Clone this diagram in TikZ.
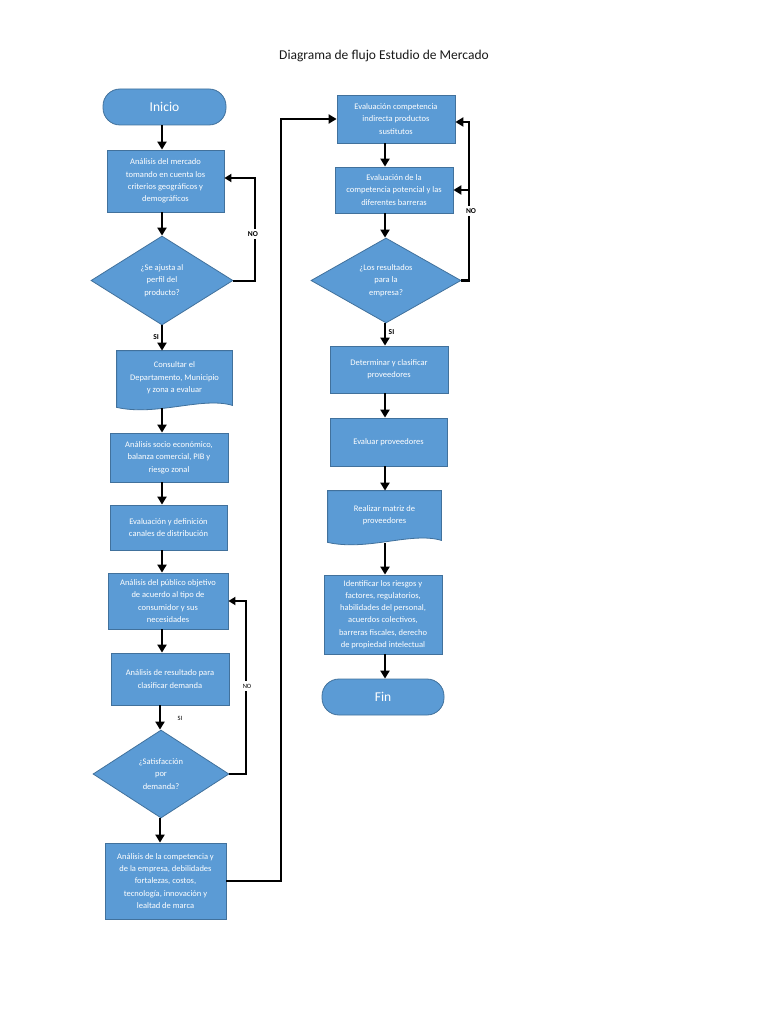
\documentclass[tikz,border=0pt]{standalone}
\usepackage{fontspec}
\setmainfont{Carlito}
\usetikzlibrary{shapes.geometric,arrows.meta,calc,backgrounds}
\definecolor{boxblue}{HTML}{5B9BD5}
\definecolor{boxline}{HTML}{41719C}
% document shape (wavy bottom) drawn behind a named node
\newcommand{\docfill}[1]{%
  \begin{scope}[on background layer]
    \filldraw[fill=boxblue,draw=boxline,line width=.8pt]
      (#1.north west) -- (#1.north east) -- (#1.south east)
      .. controls ($(#1.south east)+(-30,-9)$) and ($(#1.south west)+(40,11)$) .. ($(#1.south west)+(0,2)$) -- cycle;
  \end{scope}}

\begin{document}
\begin{tikzpicture}[x=1pt,y=-1pt,
	base/.style={fill=boxblue,draw=boxline,line width=.8pt,text=white,align=center,inner sep=0pt,font=\fontsize{8.5}{12.3}\selectfont},
	term/.style={base,rounded corners=17pt,minimum width=123pt,minimum height=36pt,font=\fontsize{13.5}{15}\selectfont},
	proc/.style={base,rectangle},
	dec/.style={base,diamond,shape aspect=1.6},
	doc/.style={base,draw=none,fill=none},
	flow/.style={line width=2.9pt,-{Triangle[length=8pt,width=9pt]}},
	back/.style={line width=2pt,-{Triangle[length=7pt,width=8pt]}},
	tag/.style={font=\fontsize{7.5}{9}\bfseries\selectfont,fill=white,inner sep=1.5pt},
	thintag/.style={tag,font=\fontsize{6.5}{8}\selectfont}]
	\useasboundingbox (0,0) rectangle (768,1024);
	\node[font=\fontsize{13.5}{15}\selectfont,text=black!90] (title) at (384,56) {Diagrama de flujo Estudio de Mercado};

	% left column
	\path (162,0) coordinate (colL) (255,0) coordinate (loopA) (246,0) coordinate (loopB) (281,0) coordinate (bridge);
	\node[term] (inicio) at (164.5,107) {Inicio};
	\node[proc,minimum width=117pt,minimum height=62pt] (mercado) at (165.5,181) {Análisis del mercado\\tomando en cuenta los\\criterios geográficos y\\demográficos};
	\node[dec,minimum width=142pt,minimum height=89pt] (ajusta) at (162,280.5) {¿Se ajusta al\\perfil del\\producto?};
	\node[doc,minimum width=115pt,minimum height=54pt] (consulta) at (174.5,378) {Consultar el\\Departamento, Municipio\\y zona a evaluar};
	\docfill{consulta}
	\node[proc,minimum width=118pt,minimum height=49pt] (socio) at (169,457.5) {Análisis socio económico,\\balanza comercial, PIB y\\riesgo zonal};
	\node[proc,minimum width=117pt,minimum height=45pt] (canales) at (168.5,527.5) {Evaluación y definición\\canales de distribución};
	\node[proc,minimum width=120pt,minimum height=56pt] (publico) at (168,601) {Análisis del público objetivo\\de acuerdo al tipo de\\consumidor y sus\\necesidades};
	\node[proc,minimum width=118pt,minimum height=52pt] (demanda) at (170,679) {Análisis de resultado para\\clasificar demanda};
	\node[dec,minimum width=136pt,minimum height=88pt] (satisfaccion) at (161,774) {¿Satisfacción\\por\\demanda?};
	\node[proc,minimum width=121pt,minimum height=76pt] (competencia) at (165.5,881) {Análisis de la competencia y\\de la empresa, debilidades\\fortalezas, costos,\\tecnología, innovación y\\lealtad de marca};

	% right column
	\path (385,0) coordinate (colR) (469,0) coordinate (loopR);
	\node[proc,minimum width=118pt,minimum height=48pt] (indirecta) at (396,119) {Evaluación competencia\\indirecta productos\\sustitutos};
	\node[proc,minimum width=118pt,minimum height=46pt] (potencial) at (394,190) {Evaluación de la\\competencia potencial y las\\diferentes barreras};
	\node[dec,minimum width=150pt,minimum height=85pt] (resultados) at (386,280.5) {¿Los resultados\\para la\\empresa?};
	\node[proc,minimum width=118pt,minimum height=47pt] (proveedores) at (389,369.5) {Determinar y clasificar\\proveedores};
	\node[proc,minimum width=117pt,minimum height=48pt] (evaluar) at (388.5,442) {Evaluar proveedores};
	\node[doc,minimum width=113pt,minimum height=49pt] (matriz) at (384.5,515.5) {Realizar matriz de\\proveedores};
	\docfill{matriz}
	\node[proc,minimum width=118pt,minimum height=79pt] (riesgos) at (383,614.5) {Identificar los riesgos y\\factores, regulatorios,\\habilidades del personal,\\acuerdos colectivos,\\barreras fiscales, derecho\\de propiedad intelectual};
	\node[term,minimum width=122pt] (fin) at (383,697) {Fin};

	% main flow
	\draw[flow] (colL |- inicio.south) -- (colL |- mercado.north);
	\draw[flow] (colL |- mercado.south) -- (colL |- ajusta.north);
	\draw[flow] (colL |- ajusta.south) -- (colL |- consulta.north);
	\draw[flow] ($(colL |- consulta.south)+(0,3)$) -- (colL |- socio.north);
	\draw[flow] (colL |- socio.south) -- (colL |- canales.north);
	\draw[flow] (colL |- canales.south) -- (colL |- publico.north);
	\draw[flow] (colL |- publico.south) -- (colL |- demanda.north);
	\draw[flow] ($(colL |- demanda.south)+(-2,0)$) -- ($(colL |- satisfaccion.north)+(-2,0)$);
	\draw[flow] ($(colL |- satisfaccion.south)+(-2,0)$) -- ($(colL |- competencia.north)+(-2,0)$);
	\draw[flow] (competencia.east) -- (competencia.east -| bridge) |- (indirecta.west);
	\draw[flow] (colR |- indirecta.south) -- (colR |- potencial.north);
	\draw[flow] (colR |- potencial.south) -- (colR |- resultados.north);
	\draw[flow] (colR |- resultados.south) -- (colR |- proveedores.north);
	\draw[flow] (colR |- proveedores.south) -- (colR |- evaluar.north);
	\draw[flow] (colR |- evaluar.south) -- (colR |- matriz.north);
	\draw[flow] ($(colR |- matriz.south)+(0,3)$) -- (colR |- riesgos.north);
	\draw[flow] (colR |- riesgos.south) -- (colR |- fin.north);

	% loops back
	\draw[back] (ajusta.east) -- (ajusta.east -| loopA) -- ($(loopA |- mercado.east)+(0,-3)$) -- ($(mercado.east)+(0,-3)$);
	\draw[back] (satisfaccion.east) -- (satisfaccion.east -| loopB) -- (loopB |- publico.east) -- (publico.east);
	\draw[flow] (resultados.east) -- (resultados.east -| loopR) -- ($(loopR |- indirecta.east)+(0,3)$) -- ($(indirecta.east)+(0,3)$);
	\draw[flow] (loopR |- potencial.east) -- (potencial.east);

	% labels
	\node[tag,inner sep=3pt] (noA) at (253,234) {NO};
	\node[thintag,inner sep=3pt] (noB) at (247,686) {NO};
	\node[tag,inner sep=3pt] (noR) at (471,211) {NO};
	\node[tag,fill=none,anchor=east] (siA) at (160.5,337) {SI};
	\node[thintag,fill=none] (siB) at (180,718) {SI};
	\node[tag,fill=none,anchor=west] (siR) at (387,332) {SI};
\end{tikzpicture}
\end{document}
